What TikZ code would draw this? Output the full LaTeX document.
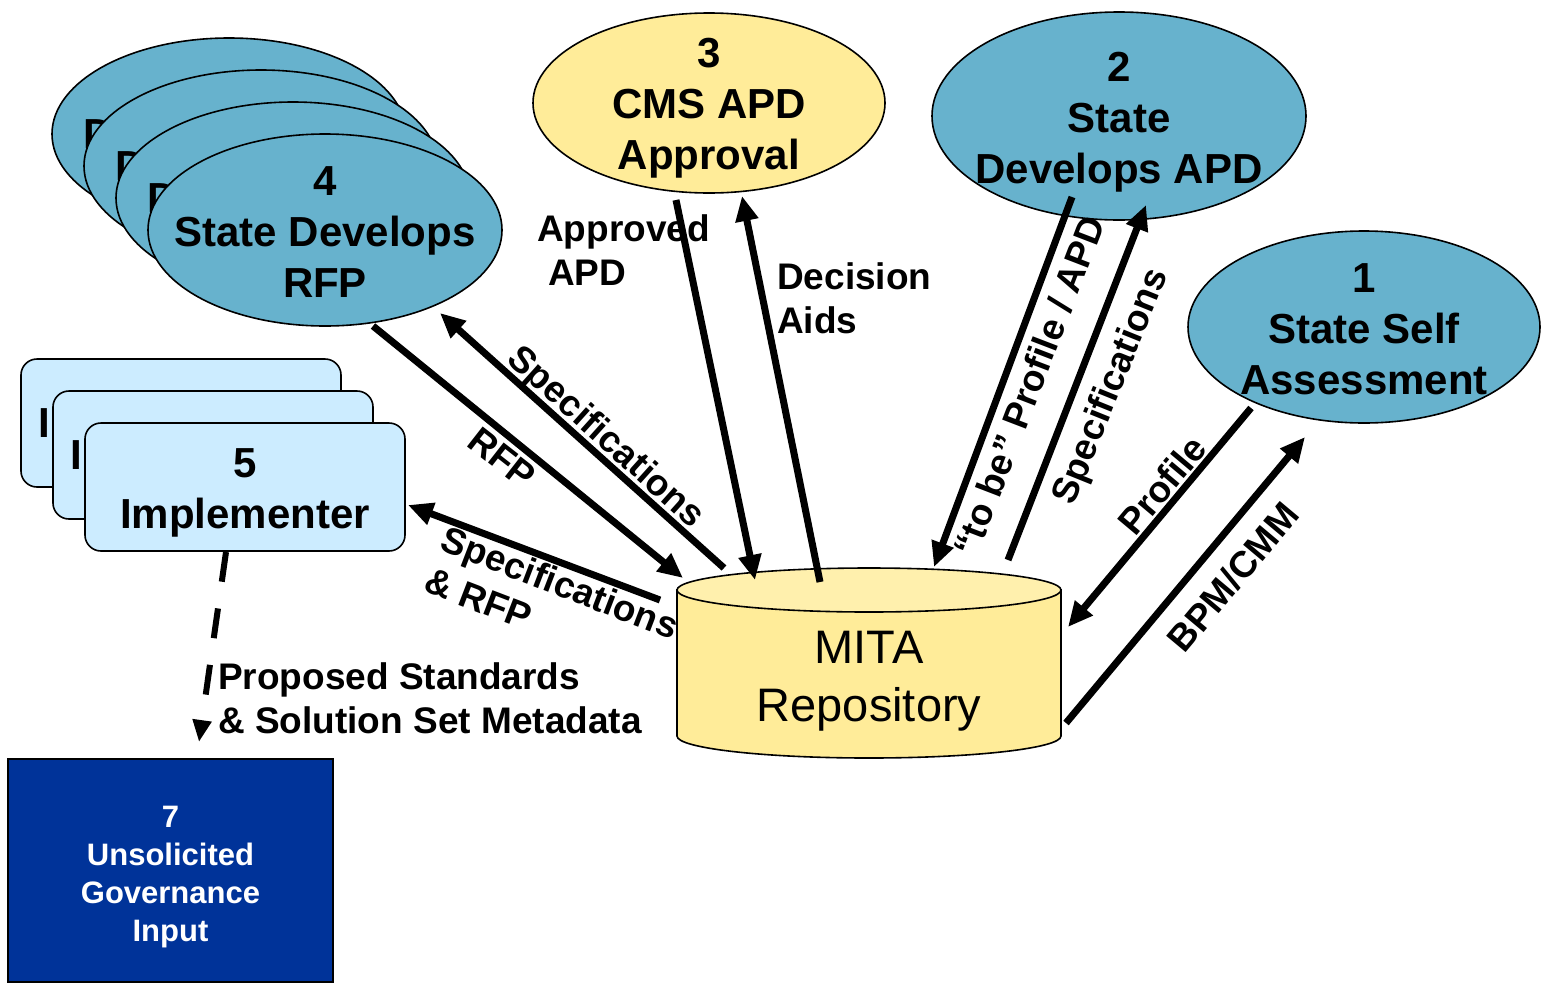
\documentclass[tikz,border=0pt]{standalone}
\usepackage{fontspec}
\setmainfont{Liberation Sans}
\usetikzlibrary{shapes.geometric,arrows.meta}
\definecolor{ellblue}{RGB}{103,178,205}
\definecolor{ellyellow}{RGB}{255,236,153}
\definecolor{rectblue}{RGB}{204,236,255}
\definecolor{darkbox}{RGB}{0,51,153}
\tikzset{
 ell/.style={ellipse, draw=black, line width=1.6pt, inner sep=0pt},
 elltext/.style={inner sep=0pt, align=center, font=\fontsize{42}{51}\selectfont\bfseries},
 implbox/.style={rectangle, rounded corners=16pt, draw, line width=1.6pt, fill=rectblue, minimum width=320pt, minimum height=128pt, inner sep=0pt},
 peek/.style={anchor=west, inner sep=0pt, font=\fontsize{42}{51}\selectfont\bfseries},
 flow/.style={line width=7pt, -{Triangle[length=25pt,width=22pt]}},
 lbl/.style={font=\fontsize{37}{44}\selectfont\bfseries, inner sep=0pt, align=left},
}
\begin{document}
\begin{tikzpicture}[x=1pt,y=-1pt]
\useasboundingbox (0,0) rectangle (1541,983);
% stack of ellipses (4)
\node[ell, fill=ellblue, minimum width=354pt, minimum height=192pt] (e4c) at (229,134) {};
\node[peek] (d4c) at (83,134) {D};
\node[ell, fill=ellblue, minimum width=354pt, minimum height=192pt] (e4b) at (261,166) {};
\node[peek] (d4b) at (115,166) {D};
\node[ell, fill=ellblue, minimum width=354pt, minimum height=192pt] (e4a) at (293,198) {};
\node[peek] (d4a) at (147,198) {D};
\node[ell, fill=ellblue, minimum width=354pt, minimum height=192pt] (e4) at (325,230) {};
\node[elltext] (t4) at (325,232) {4\\State Develops\\RFP};
% other ellipses
\node[ell, fill=ellyellow, minimum width=352pt, minimum height=180pt] (e3) at (709,103) {};
\node[elltext] (t3) at (709,108) {3\\CMS APD\\Approval};
\node[ell, fill=ellblue, minimum width=374pt, minimum height=208pt] (e2) at (1119,116) {};
\node[elltext] (t2) at (1119,122) {2\\State\\Develops APD};
\node[ell, fill=ellblue, minimum width=352pt, minimum height=192pt] (e1) at (1364,327) {};
\node[elltext] (t1) at (1364,329) {1\\State Self\\Assessment};
% stack of implementer boxes (5)
\node[implbox] (r5c) at (181,423) {};
\node[peek] (i5c) at (38,423) {I};
\node[implbox] (r5b) at (213,455) {};
\node[peek] (i5b) at (70,455) {I};
\node[implbox] (r5) at (245,487) {};
\node[elltext] (t5) at (245,493) {5\\Implementer};
% cylinder
\path[draw, line width=1.6pt, fill=ellyellow] (677,590) -- (677,736) arc[start angle=180, end angle=0, x radius=192, y radius=22] -- (1061,590) -- cycle;
\path[draw, line width=1.6pt, fill=ellyellow!80!white] (869,590) ellipse[x radius=192, y radius=22];
\node[align=center, font=\fontsize{47}{58}\selectfont] (mita) at (869,681) {MITA\\Repository};
% box 7
\node[rectangle, draw=black, line width=1.6pt, fill=darkbox, minimum width=325pt, minimum height=223pt, inner sep=0pt] (b7) at (170.5,870.5) {};
\node[text=white, inner sep=0pt, align=center, font=\fontsize{31}{38}\selectfont\bfseries] (t7) at (170.5,877) {7\\Unsolicited\\Governance\\Input};
% connector end points
\coordinate (a1s) at (373,326); \coordinate (a1t) at (683,578);
\coordinate (a2s) at (724,568); \coordinate (a2t) at (440,313);
\coordinate (a3s) at (660,600); \coordinate (a3t) at (408,505);
\coordinate (a4s) at (676,200); \coordinate (a4t) at (755,580);
\coordinate (a5s) at (820,582); \coordinate (a5t) at (742,196);
\coordinate (a6s) at (1072,197); \coordinate (a6t) at (934,567);
\coordinate (a7s) at (1008,560); \coordinate (a7t) at (1146,205);
\coordinate (a8s) at (1251,408); \coordinate (a8t) at (1068,627);
\coordinate (a9s) at (1066,723); \coordinate (a9t) at (1305,437);
\coordinate (a10s) at (226,552); \coordinate (a10t) at (199,742);
% connectors
\draw[flow] (a1s) -- (a1t);
\draw[flow] (a2s) -- (a2t);
\draw[flow] (a3s) -- (a3t);
\draw[flow] (a4s) -- (a4t);
\draw[flow] (a5s) -- (a5t);
\draw[flow] (a6s) -- (a6t);
\draw[flow] (a7s) -- (a7t);
\draw[flow] (a8s) -- (a8t);
\draw[flow] (a9s) -- (a9t);
\draw[line width=6pt, dash pattern=on 30pt off 27pt, -{Triangle[length=22pt,width=18pt]}] (a10s) -- (a10t);
% labels
\node[lbl, rotate=-38] (lrfp) at (502,458) {RFP};
\node[lbl, rotate=-42] (lspec4) at (605,438) {Specifications};
\node[lbl, rotate=-21] (lspecrfp) at (552,603) {Specifications\\\& RFP};
\node[lbl, anchor=west] (lappr) at (537,250) {Approved\\\hspace*{11pt}APD};
\node[lbl, anchor=west] (ldec) at (777,298) {Decision\\Aids};
\node[lbl, rotate=69] (ltobe) at (1029,386) {“to be” Profile / APD};
\node[lbl, rotate=68] (lspec2) at (1112,387) {Specifications};
\node[lbl, rotate=50] (lprof) at (1162,485) {Profile};
\node[lbl, rotate=50] (lbpm) at (1233,577) {BPM/CMM};
\node[lbl, anchor=west] (lprop) at (218,698) {Proposed Standards\\\& Solution Set Metadata};
\end{tikzpicture}
\end{document}
